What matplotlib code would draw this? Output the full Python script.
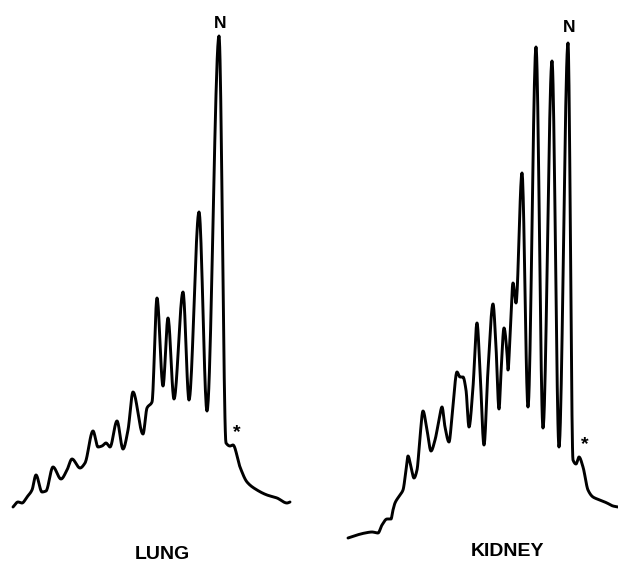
import matplotlib
matplotlib.use("Agg")
import matplotlib.pyplot as plt
import numpy as np

# Lung trace (elution position, detector signal)
lung_time = [13, 18, 22, 27, 32, 36, 42, 46, 53, 61, 67, 72, 80, 85, 93, 98, 102, 106, 110,
             117, 123, 128, 133, 143, 147, 152, 157, 163, 168, 174, 183, 189, 199, 207, 219,
             226, 230, 233, 240, 247, 257, 267, 277, 287, 290]
lung_signal = [58, 63, 62, 68, 75, 90, 73, 74, 98, 86, 95, 106, 97, 102, 134, 118, 119, 122, 118,
               144, 116, 135, 173, 131, 157, 163, 267, 179, 247, 166, 273, 165, 353, 154, 529,
               122, 119, 120, 98, 83, 75, 70, 67, 62, 63]

# Kidney trace
kidney_time = [348, 357, 365, 372, 378, 382, 387, 391, 393, 395, 400, 403, 406, 408, 411, 414,
               417, 420, 423, 427, 431, 435, 439, 442, 445, 449, 452, 457, 460, 463, 466, 469,
               473, 477, 480, 484, 488, 493, 496, 499, 501, 504, 507, 508, 510, 513, 516, 522,
               528, 536, 543, 552, 559, 568, 573, 576, 579, 583, 588, 593, 600, 607, 613, 618]
kidney_signal = [27, 30, 32, 33, 32, 40, 46, 46, 55, 62, 70, 75, 95, 109, 98, 87,
                 95, 128, 154, 135, 114, 125, 145, 158, 138, 123, 148, 193, 188, 188, 175, 138,
                 178, 242, 195, 120, 195, 261, 218, 156, 192, 237, 212, 195, 228, 282, 262, 392,
                 158, 518, 137, 504, 118, 522, 105, 101, 108, 98, 75, 68, 65, 62, 59, 58]

peak_label = "N"
shoulder_label = "*"
panel_labels = ["LUNG", "KIDNEY"]


def pchip(x, y, n=20):
    """Monotone cubic rendering of the read trace points."""
    x = np.asarray(x, float)
    y = np.asarray(y, float)
    h = np.diff(x)
    d = np.diff(y) / h
    m = np.zeros_like(y)
    for k in range(1, len(x) - 1):
        if d[k - 1] * d[k] > 0:
            w1 = 2 * h[k] + h[k - 1]
            w2 = h[k] + 2 * h[k - 1]
            m[k] = (w1 + w2) / (w1 / d[k - 1] + w2 / d[k])
    m[0], m[-1] = d[0], d[-1]
    xs, ys = [], []
    for k in range(len(x) - 1):
        t = np.linspace(0, 1, n, endpoint=False)
        h00 = 2 * t**3 - 3 * t**2 + 1
        h10 = t**3 - 2 * t**2 + t
        h01 = -2 * t**3 + 3 * t**2
        h11 = t**3 - t**2
        xs.append(x[k] + t * h[k])
        ys.append(h00 * y[k] + h10 * h[k] * m[k] + h01 * y[k + 1] + h11 * h[k] * m[k + 1])
    xs.append([x[-1]])
    ys.append([y[-1]])
    return np.concatenate(xs), np.concatenate(ys)


fig = plt.figure(figsize=(6.18, 5.65), dpi=100)
ax = fig.add_axes([0, 0, 1, 1])
ax.set_xlim(0, 618)
ax.set_ylim(0, 565)
ax.axis("off")

for tx, sy in ((lung_time, lung_signal), (kidney_time, kidney_signal)):
    px, py = pchip(tx, sy)
    ax.plot(px, py, color="black", lw=2.1, solid_joinstyle="round", solid_capstyle="round")

font = dict(family=["Liberation Sans", "DejaVu Sans"], fontweight="bold", color="black")
ax.text(220, 542, peak_label, ha="center", va="center", fontsize=12.5, **font)
ax.text(569, 537, peak_label, ha="center", va="center", fontsize=12.5, **font)
ax.text(237, 132, shoulder_label, ha="center", va="center", fontsize=14, **font)
ax.text(585, 120, shoulder_label, ha="center", va="center", fontsize=14, **font)
ax.text(162, 2, panel_labels[0], ha="center", va="bottom", fontsize=14, **font)
ax.text(507, 13, panel_labels[1], ha="center", va="center", fontsize=14, **font)

fig.savefig("out.png", dpi=100)
